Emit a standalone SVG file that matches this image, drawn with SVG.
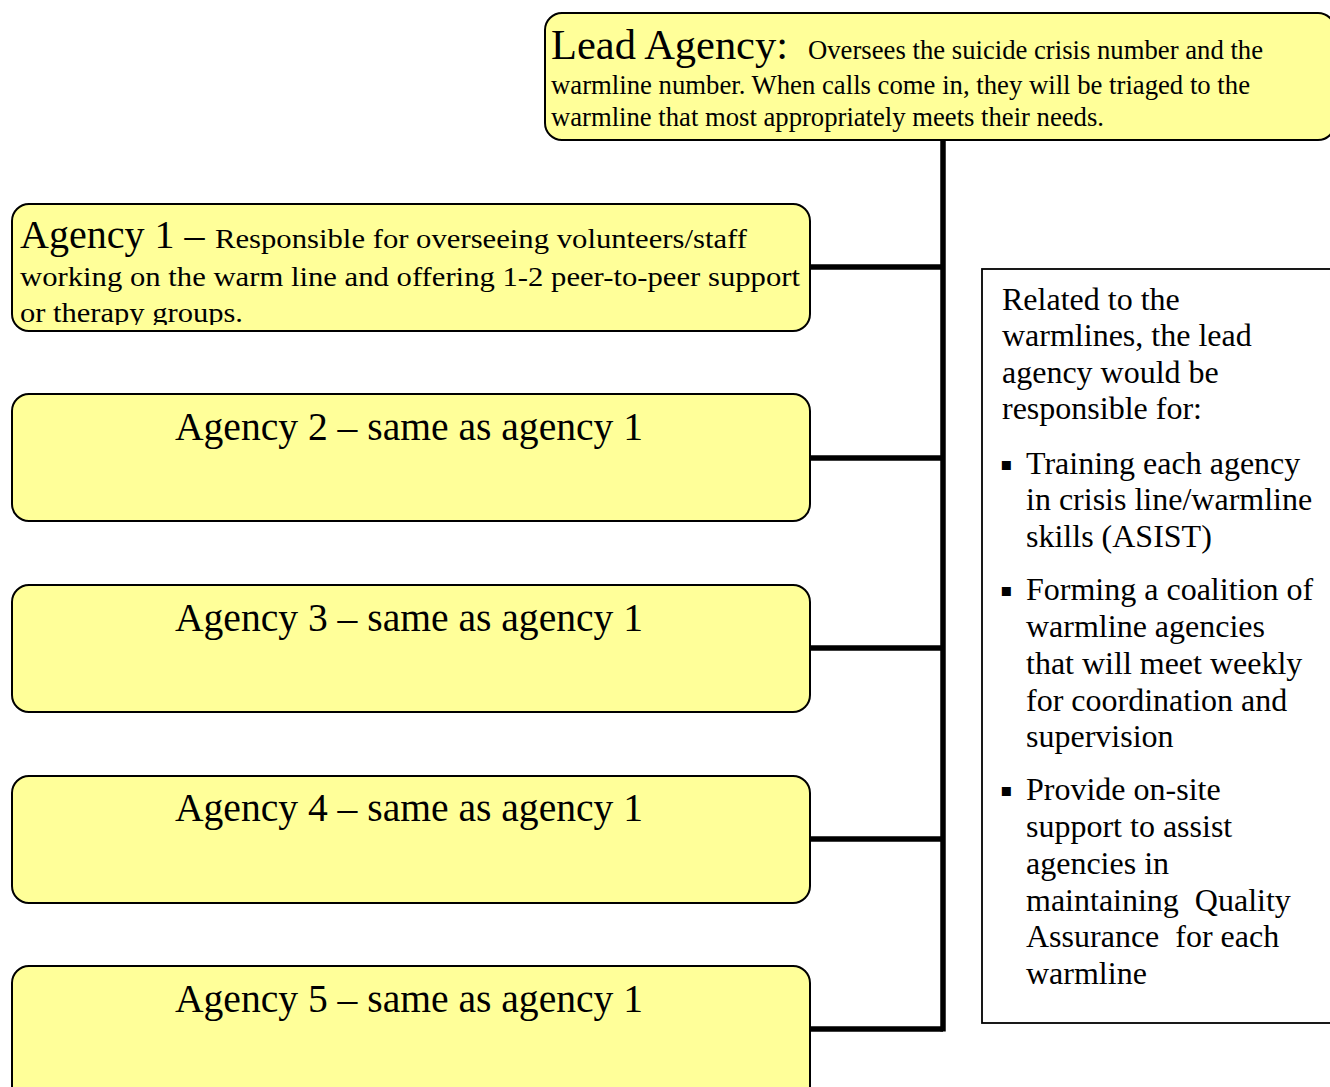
<svg xmlns="http://www.w3.org/2000/svg" width="1330" height="1087" viewBox="0 0 1330 1087">
<style>
.box{fill:#FFFF99;stroke:#000;stroke-width:2}
.t{font-family:"Liberation Serif","Times New Roman",serif;fill:#000}
.big{font-size:40px}
.title{font-size:42px}
.body{font-size:27px}
.side{font-size:32px}
.conn{stroke:#000;stroke-width:5.5;fill:none}
</style>
<defs>
<clipPath id="a1clip"><rect x="12" y="204" width="798" height="121"/></clipPath>
</defs>
<rect width="1330" height="1087" fill="#fff"/>
<g id="connectors">
<line class="conn" x1="943" y1="140" x2="943" y2="1031.5"/>
<line class="conn" x1="810" y1="267" x2="943" y2="267"/>
<line class="conn" x1="810" y1="458" x2="943" y2="458"/>
<line class="conn" x1="810" y1="648" x2="943" y2="648"/>
<line class="conn" x1="810" y1="839" x2="943" y2="839"/>
<line class="conn" x1="810" y1="1029" x2="943" y2="1029"/>
</g>
<g id="lead">
<rect class="box" x="545" y="13" width="790" height="127" rx="17"/>
<text class="t title" x="551" y="59" textLength="237" lengthAdjust="spacingAndGlyphs">Lead Agency:</text>
<text class="t body" x="808" y="59" textLength="455" lengthAdjust="spacingAndGlyphs">Oversees the suicide crisis number and the</text>
<text class="t body" x="551" y="94" textLength="699" lengthAdjust="spacingAndGlyphs">warmline number. When calls come in, they will be triaged to the</text>
<text class="t body" x="551" y="126" textLength="553" lengthAdjust="spacingAndGlyphs">warmline that most appropriately meets their needs.</text>
</g>
<g id="agency1">
<rect class="box" x="12" y="204" width="798" height="127" rx="17"/>
<g clip-path="url(#a1clip)">
<text class="t big" x="20" y="248">Agency 1 –</text>
<text class="t body" x="215" y="248" textLength="532" lengthAdjust="spacingAndGlyphs">Responsible for overseeing volunteers/staff</text>
<text class="t body" x="20" y="286" textLength="780" lengthAdjust="spacingAndGlyphs">working on the warm line and offering 1-2 peer-to-peer support</text>
<text class="t body" x="20" y="322" textLength="223" lengthAdjust="spacingAndGlyphs">or therapy groups.</text>
</g>
</g>
<g id="agency2">
<rect class="box" x="12" y="394" width="798" height="127" rx="17"/>
<text class="t big" x="175" y="440" textLength="468" lengthAdjust="spacingAndGlyphs">Agency 2 – same as agency 1</text>
</g>
<g id="agency3">
<rect class="box" x="12" y="585" width="798" height="127" rx="17"/>
<text class="t big" x="175" y="631" textLength="468" lengthAdjust="spacingAndGlyphs">Agency 3 – same as agency 1</text>
</g>
<g id="agency4">
<rect class="box" x="12" y="776" width="798" height="127" rx="17"/>
<text class="t big" x="175" y="821" textLength="468" lengthAdjust="spacingAndGlyphs">Agency 4 – same as agency 1</text>
</g>
<g id="agency5">
<rect class="box" x="12" y="966" width="798" height="140" rx="17"/>
<text class="t big" x="175" y="1012" textLength="468" lengthAdjust="spacingAndGlyphs">Agency 5 – same as agency 1</text>
</g>
<g id="notes">
<rect x="982" y="269" width="360" height="754" fill="#fff" stroke="#000" stroke-width="1.8"/>
<g class="t side">
<text x="1002" y="310">Related to the</text>
<text x="1002" y="346">warmlines, the lead</text>
<text x="1002" y="383">agency would be</text>
<text x="1002" y="419">responsible for:</text>
<text x="1026" y="474">Training each agency</text>
<text x="1026" y="510">in crisis line/warmline</text>
<text x="1026" y="547">skills (ASIST)</text>
<text x="1026" y="600">Forming a coalition of</text>
<text x="1026" y="637">warmline agencies</text>
<text x="1026" y="674">that will meet weekly</text>
<text x="1026" y="711">for coordination and</text>
<text x="1026" y="747">supervision</text>
<text x="1026" y="800">Provide on-site</text>
<text x="1026" y="837">support to assist</text>
<text x="1026" y="874">agencies in</text>
<text x="1026" y="911" xml:space="preserve">maintaining  Quality</text>
<text x="1026" y="947" xml:space="preserve">Assurance  for each</text>
<text x="1026" y="984">warmline</text>
</g>
<g font-family="DejaVu Sans,sans-serif" font-size="18" fill="#000">
<text x="1000" y="470">▪</text>
<text x="1000" y="596">▪</text>
<text x="1000" y="796">▪</text>
</g>
</g>
</svg>
